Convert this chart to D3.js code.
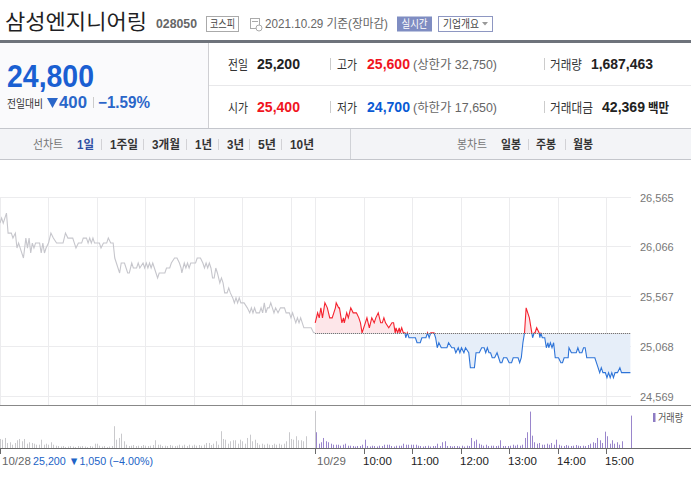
<!DOCTYPE html>
<html>
<head>
<meta charset="utf-8">
<script src="https://cdn.jsdelivr.net/npm/d3@7"></script>
<style>
  body { margin: 0; background: #fff; }
  svg { display: block; font-family: "Liberation Sans", "Noto Sans CJK KR", sans-serif; }
</style>
</head>
<body>
<div id="chart"></div>
<script>
// ---- data ----
const priceTicks = [24569, 25068, 25567, 26066, 26565];
const prevClose = 25200;

// [minutes since 09:00, price]
const priceDay1 = [[0,26300],[2,26350],[4,26300],[6,26350],[8,26400],[10,26200],[14,26200],[16,26150],[19,26200],[21,26050],[23,26100],[25,26050],[29,25950],[32,26150],[34,26050],[36,26150],[38,26000],[40,26100],[42,26050],[44,26100],[49,26100],[51,26000],[53,26100],[55,26000],[57,26050],[60,26100],[63,26200],[66,26150],[70,26100],[78,26100],[81,26200],[84,26150],[90,26150],[94,26050],[97,26100],[101,26100],[103,26150],[107,26150],[109,26100],[111,26150],[113,26100],[115,26150],[117,26100],[123,26100],[125,26050],[128,26100],[132,26100],[134,26150],[137,26100],[140,26100],[142,25950],[144,25900],[146,25850],[148,25800],[150,25900],[154,25900],[156,25850],[158,25800],[160,25800],[163,25900],[165,25850],[169,25850],[171,25900],[173,25850],[177,25900],[179,25850],[181,25900],[183,25850],[185,25900],[187,25850],[189,25900],[191,25850],[193,25800],[195,25750],[197,25800],[204,25800],[206,25850],[210,25850],[212,25900],[216,25950],[219,25950],[222,25900],[224,25850],[225,25800],[228,25900],[230,25850],[232,25900],[234,25850],[236,25900],[242,25900],[244,25950],[248,25950],[251,25900],[253,25850],[255,25900],[257,25850],[259,25900],[261,25850],[263,25750],[265,25750],[267,25850],[269,25800],[272,25700],[274,25750],[276,25700],[278,25600],[281,25600],[283,25650],[285,25600],[288,25550],[290,25500],[292,25550],[294,25500],[296,25550],[298,25500],[302,25500],[306,25450],[309,25400],[311,25450],[313,25400],[315,25450],[317,25400],[321,25400],[323,25450],[325,25400],[327,25500],[329,25400],[331,25450],[333,25450],[335,25500],[337,25450],[339,25400],[341,25450],[344,25400],[347,25450],[352,25450],[354,25400],[358,25400],[360,25350],[362,25400],[364,25350],[366,25300],[368,25350],[370,25300],[372,25350],[374,25300],[376,25250],[385,25250],[388,25200],[390,25200]];

const priceDay2 = [[0,25300],[3,25400],[5,25350],[7,25450],[9,25350],[12,25500],[15,25450],[18,25350],[21,25350],[25,25450],[26,25500],[29,25450],[30,25450],[33,25300],[35,25350],[36,25300],[39,25400],[41,25350],[44,25450],[47,25400],[51,25400],[54,25350],[56,25300],[58,25200],[62,25300],[64,25350],[67,25250],[70,25350],[73,25300],[75,25350],[78,25400],[81,25300],[83,25300],[85,25350],[87,25300],[91,25250],[95,25300],[97,25300],[99,25200],[100,25250],[102,25200],[104,25250],[105,25200],[107,25250],[109,25200],[111,25200],[112,25150],[114,25200],[116,25150],[124,25150],[126,25100],[130,25100],[132,25150],[137,25150],[139,25200],[141,25150],[143,25200],[147,25200],[149,25150],[151,25050],[153,25100],[156,25050],[163,25050],[165,25100],[169,25050],[172,25050],[174,25000],[177,25050],[179,25000],[181,25050],[184,25000],[186,25050],[190,25000],[192,24850],[194,24850],[197,24850],[199,25000],[203,25000],[206,25050],[209,25050],[211,25000],[213,25050],[215,25000],[217,25000],[219,24950],[222,24950],[225,25000],[227,24950],[229,24900],[231,24900],[233,24950],[237,24950],[240,24900],[243,24900],[245,24950],[251,24950],[253,24900],[255,24950],[257,25100],[259,25200],[261,25450],[263,25400],[265,25350],[267,25250],[269,25150],[271,25200],[272,25200],[274,25250],[277,25200],[278,25150],[279,25200],[281,25150],[284,25150],[286,25050],[288,25100],[289,25050],[291,25100],[293,25050],[295,25100],[297,24950],[301,24950],[304,24900],[306,24900],[308,24950],[313,24950],[314,25050],[317,25000],[323,25000],[325,25050],[327,25000],[330,25000],[332,25050],[334,25050],[336,24950],[346,24950],[350,24850],[352,24800],[354,24850],[356,24800],[359,24800],[361,24750],[363,24800],[365,24750],[367,24800],[369,24750],[371,24800],[374,24800],[377,24850],[379,24800],[390,24800]];

// volume per 3-minute bucket, thousand shares (last bucket = 15:30 close)
const volDay1 = [12.6,11.6,14,7,8,4.6,7,10.8,12.6,9.4,12.6,6,8,7,6,4.6,4.6,11.6,4.6,6,4.6,8,4.6,3.2,
  2.8,2.1,2.8,1.4,2.1,2.8,2.1,1.4,2.8,2.1,2.8,2.1,1.4,2.8,2.1,
  6,6,3.2, 2.1,2.8,1.4,2.1,2.8, 30.4,11.6,14,20,9.4,4.6,
  2.8,3.2,4.2,2.8,3.2,2.8,4.2,3.2,2.8,3.2,4.2, 10.8,4.6,4.6,
  2.8,3.2,2.8,4.2,3.2,2.8,3.2,4.6,3.2,4.6,2.8,4.6,3.2,4.6,3.2,4.2,3.2,4.6,
  7,7,4.2,6,9.4,4.6,23.4,12.6,11.6,6,9.4,10.8,10.8,6,11.6,9.4,6,14,18.6,9.4,11.6,7,
  4.6,6,4.6,6,4.6,4.2,6,4.6,6,4.6,6,
  9.4,22,12.6,11.6,16.4,10.8,10.8,9.4,16.4, 0,0,0,51.8];

const volDay2 = [22,6,8,14,9.4,8,6,4.6,4.6,4.6,3.2,4.6,6,3.2,3.2,
  2.8,2.1,2.8,2.8, 4.6,11.6, 2.8,2.1,3.2,2.8,2.1,3.2,2.8, 4.6,4.6,4.6, 2.8,2.1, 3.2,3.2,3.2, 6,
  4.6,4.6,4.6,4.6,4.6, 3.2, 2.8,2.1,2.8,3.2,2.1,2.8,2.8, 6,2.8,8,9.4, 2.8,2.8,2.1,2.8,2.8,
  2.1,3.2,2.1,3.2,2.8, 14,9.4,11.6, 6,4.6,3.2,4.6, 2.8, 3.2,3.2,2.8,3.2, 10.8, 2.8,2.8,2.8,
  3.2,4.6,3.2,4.6,3.2,
  4.6,14,22,50.8,17.2,8,6,7,4.6,4.6,6,4.6,7,4.6,11.6,4.6,
  3.2,2.8,4.2,3.2,2.8,3.2,4.2,3.2,2.8,3.2,2.8,4.2,
  6,8,7,14,10.8,7,22.8,16.4,6,10.8,6,8,4.6,9.4, 0,0,0,45.2];

const dayLabels = ['10/28', '10/29'];
const hourLabels = ['10:00', '11:00', '12:00', '13:00', '14:00', '15:00'];
const dayChange = '25,200 \u25BC1,050 (\u22124.00%)';

// ---- page ----
const W = 691, H = 482;
const svg = d3.select('#chart').append('svg').attr('width', W).attr('height', H);

function label(x, y, s, o = {}) {
    const t = svg.append('text')
        .attr('x', x).attr('y', y).text(s)
        .style('font-size', (o.size || 12) + 'px')
        .style('fill', o.fill || '#333');
    if (o.bold) t.style('font-weight', o.bold === true ? 'bold' : o.bold);
    if (o.anchor) t.attr('text-anchor', o.anchor);
    if (o.len) t.attr('textLength', o.len).attr('lengthAdjust', 'spacingAndGlyphs');
    return t;
}
function hline(x1, x2, yy, color, w = 1) {
    svg.append('line').attr('x1', x1).attr('x2', x2).attr('y1', yy).attr('y2', yy)
        .style('stroke', color).style('stroke-width', w);
}
function vline(xx, y1, y2, color) {
    svg.append('line').attr('x1', xx).attr('x2', xx).attr('y1', y1).attr('y2', y2)
        .style('stroke', color).style('stroke-width', 1);
}
function box(x, y, w, h, stroke, fill) {
    return svg.append('rect').attr('x', x).attr('y', y).attr('width', w).attr('height', h)
        .style('stroke', stroke || 'none').style('fill', fill || 'none');
}

// header
label(5, 29, '삼성엔지니어링', { size: 21, fill: '#1f1f24', len: 142 });
label(156, 28, '028050', { size: 12.5, bold: true, fill: '#666', len: 41 });
box(206.5, 16.5, 32, 15, '#aaa', '#fff');
label(222.5, 28, '코스피', { size: 11, fill: '#444', anchor: 'middle', len: 25 });
box(250.5, 18.5, 9, 10, '#aaa', '#fff');
hline(252, 258, 21.5, '#aaa');
svg.append('circle').attr('cx', 259).attr('cy', 28).attr('r', 3).style('fill', '#fff').style('stroke', '#aaa');
label(265, 28, '2021.10.29 기준(장마감)', { size: 12, fill: '#666', len: 123 });
box(397, 16.5, 35, 15, null, '#7f8dc2');
label(414.5, 28, '실시간', { size: 11, fill: '#fff', anchor: 'middle', len: 26 });
box(438.5, 16.5, 54, 15, '#8e97c2', '#fff');
label(443, 28, '기업개요', { size: 11, fill: '#444', len: 36 });
svg.append('path').attr('d', 'M482,22 L488,22 L485,25.5 Z').style('fill', '#999');

box(0, 40, W, 3, null, '#6e737b');

// quote panel
box(0, 43, 208, 85, null, '#fafafc');
vline(208.5, 43, 128, '#cfcfd3');
hline(209, W, 85.5, '#e8e8ea');
hline(0, W, 128.5, '#c4c6cc');

label(7, 87, '24,800', { size: 32, bold: true, fill: '#1a5fd2', len: 87 });
label(7, 108, '전일대비', { size: 11, fill: '#333', len: 36 });
svg.append('path').attr('d', 'M47,98 L58,98 L52.5,108 Z').style('fill', '#2a66c9');
label(59, 108, '400', { size: 17, bold: true, fill: '#2a66c9', len: 28 });
vline(93.5, 97, 108, '#ccc');
label(98, 108, '\u22121.59%', { size: 16, bold: true, fill: '#2a66c9', len: 52 });

const red = '#f0141e', blue = '#0a5ad4';
[[69, '전일', '25,200', '#222', '고가', '25,600', red, '(상한가 32,750)', '거래량', '1,687,463'],
 [112, '시가', '25,400', red, '저가', '24,700', blue, '(하한가 17,650)', '거래대금', '42,369']]
    .forEach(([by, l1, v1, c1, l2, v2, c2, lim, l3, v3], i) => {
        label(228, by, l1, { size: 13, fill: '#333', len: 20 });
        label(257, by, v1, { size: 14, bold: true, fill: c1, len: 43 });
        vline(330.5, by - 11, by + 1, '#ccc');
        label(337, by, l2, { size: 13, fill: '#333', len: 20 });
        label(367, by, v2, { size: 14, bold: true, fill: c2, len: 43 });
        label(413, by, lim, { size: 12, fill: '#666', len: 84 });
        vline(544.5, by - 11, by + 1, '#ccc');
        label(550, by, l3, { size: 13, fill: '#333', len: i ? 43 : 32 });
        label(i ? 602 : 591, by, v3, { size: 14, bold: true, fill: '#222', len: i ? 43 : 62 });
        if (i) label(648, by, '백만', { size: 13, bold: 600, fill: '#222', len: 21 });
    });

// tabs
box(0, 129, W, 30, null, '#f3f4f7');
hline(0, W, 159.5, '#c4c6cc');
vline(350.5, 129, 159, '#d0d2d7');
const tabY = 149;
label(33, tabY, '선차트', { size: 12.5, fill: '#777', len: 30 });
label(77, tabY, '1일', { size: 12.5, bold: true, fill: '#2f4fa3', len: 17 });
[['1주일', 110, 28], ['3개월', 152, 28], ['1년', 195, 17], ['3년', 227, 17], ['5년', 258, 18], ['10년', 290, 24]]
    .forEach(([s, xx, l], i) => {
        vline(xx - 8.5, tabY - 10, tabY + 1, '#d2d2d6');
        label(xx, tabY, s, { size: 12.5, bold: true, fill: '#333', len: l });
    });
label(457, tabY, '봉차트', { size: 12.5, fill: '#777', len: 30 });
[['일봉', 501], ['주봉', 536], ['월봉', 573]].forEach(([s, xx], i) => {
    if (i) vline(xx - 7.5, tabY - 10, tabY + 1, '#d2d2d6');
    label(xx, tabY, s, { size: 12.5, bold: true, fill: '#333', len: 20 });
});

// ---- chart ----
const x = d3.scaleLinear().domain([0, 780]).range([0, 630.4]);
const y = d3.scaleLinear().domain([priceTicks[0], priceTicks[priceTicks.length - 1]]).range([395.7, 196.7]);
const vy = d3.scaleLinear().domain([0, 60]).range([448, 405]);
const px = v => Math.round(x(v)) + 0.5;
const py = v => Math.round(y(v)) + 0.5;
const gridMins = [0, 60, 120, 180, 240, 300, 360, 390, 450, 510, 570, 630, 690, 750];

gridMins.forEach(m => vline(px(m), 197, 405, '#ececee'));
priceTicks.forEach(p => {
    hline(0, 631, py(p), '#ececee');
    label(640, py(p) + 4, d3.format(',')(p), { size: 11, fill: '#777' });
});

const day2 = priceDay2.map(([m, p]) => [m + 390, p]);
const yBase = py(prevClose);
const defs = svg.append('defs');
defs.append('clipPath').attr('id', 'above').append('rect')
    .attr('x', 0).attr('y', 0).attr('width', W).attr('height', yBase);
defs.append('clipPath').attr('id', 'below').append('rect')
    .attr('x', 0).attr('y', yBase).attr('width', W).attr('height', H - yBase);

const line = d3.line().x(d => x(d[0])).y(d => y(d[1]));
const area = d3.area().x(d => x(d[0])).y0(yBase).y1(d => y(d[1]));

svg.append('path').datum(priceDay1).attr('d', line)
    .style('fill', 'none').style('stroke', '#c6c6cc').style('stroke-width', 1.1);

[['above', '#fde6e9', '#f5232f'], ['below', '#e6eef9', '#2e74d8']].forEach(([id, fillC, lineC]) => {
    const g = svg.append('g').attr('clip-path', `url(#${id})`);
    g.append('path').datum(day2).attr('d', area).style('fill', fillC);
    g.append('path').datum(day2).attr('d', line)
        .style('fill', 'none').style('stroke', lineC).style('stroke-width', 1.1);
});
svg.append('line').attr('x1', x(390)).attr('x2', 631).attr('y1', yBase).attr('y2', yBase)
    .style('stroke', '#555').style('stroke-dasharray', '1 1');

// volume
hline(0, W, 405.5, '#888');
[[volDay1, 0, '#c9c9cc'], [volDay2, 390, '#9a86cc']].forEach(([vals, off, c]) => {
    svg.append('g').selectAll('rect').data(vals).join('rect')
        .attr('x', (d, i) => Math.round(x(off + i * 3)) + (off ? 1 : 0))
        .attr('width', 1)
        .attr('y', d => vy(d))
        .attr('height', d => 448 - vy(d))
        .style('fill', c);
});
hline(0, W, 448.5, '#6a6a6a');
box(653, 413, 2.5, 9, null, '#8e7cc3');
label(658, 422, '거래량', { size: 11, fill: '#555', len: 25 });

// time axis
[0, 390].forEach((m, i) => {
    vline(px(m), 449, 454, '#6a6a6a');
    label(Math.round(x(m)) + 2, 465, dayLabels[i], { size: 11.5, fill: '#666' });
});
label(33, 465, dayChange, { size: 11.5, fill: '#2163c6', len: 120 });
hourLabels.forEach((s, i) => {
    const m = 450 + i * 60;
    vline(px(m), 449, 454, '#6a6a6a');
    label(Math.round(x(m)) - 1, 465, s, { size: 11.5, fill: '#222' });
});
</script>
</body>
</html>
